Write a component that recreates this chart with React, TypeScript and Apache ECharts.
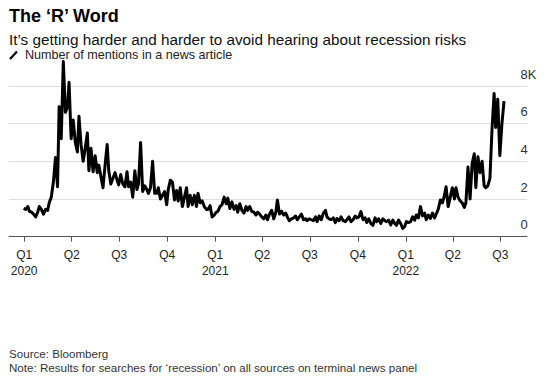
import React, { useEffect, useRef } from "react";
import * as echarts from "echarts";

// Number of mentions (thousands), sampled every ~3.8 days starting 2019-12-31
const mentions2020 = [
  1.5, 1.45, 1.6, 1.35, 1.3, 1.2, 1.05, 1.3, 1.6, 1.45,
  1.2, 1.45, 1.4, 1.8, 2.1, 2.9, 4.2, 2.65, 6.9, 5.2,
  9.3, 6.6, 6.9, 8.2, 5.2, 6.2, 5.0, 4.5, 6.4, 4.9,
  4.0, 4.7, 5.5, 3.5, 4.7, 3.45, 4.3, 3.4, 3.8, 3.2,
  2.6, 3.8, 4.9, 3.5, 2.8, 3.1, 3.4, 3.0, 2.75, 3.3,
  2.8, 2.65, 3.45, 2.65, 2.9, 2.1, 3.5, 2.5, 2.8, 5.0,
  2.4, 2.7, 2.5, 2.3, 2.6, 4.0, 2.3, 2.3, 2.6, 2.0,
  2.2, 2.4, 1.7, 2.5, 3.0, 2.9, 1.95, 2.45, 1.9, 2.6,
  1.6, 2.1, 2.6, 1.6, 2.2, 1.7, 2.2, 1.6, 2.3, 1.8,
  1.9, 1.6, 1.45, 1.45, 1.65, 1.05, 1.15,
];
const mentions2021 = [
  1.3, 1.35, 1.6, 1.7, 2.1, 1.75, 2.05, 1.5, 1.85, 1.45,
  1.65, 1.3, 1.75, 1.4, 1.25, 1.6, 1.4, 1.6, 1.35, 1.3,
  1.15, 1.3, 1.2, 1.05, 0.95, 1.15, 0.9, 1.2, 1.4, 0.95,
  1.3, 1.95, 1.2, 1.35, 1.15, 1.25, 1.05, 0.85, 0.95, 1.0,
  1.1, 0.9, 1.05, 1.2, 0.9, 0.95, 0.85, 0.95, 0.9, 0.85,
  1.05, 0.8, 1.1, 0.9, 1.25, 1.4, 1.05, 0.95, 0.9, 1.0,
  0.75, 0.97, 0.85, 1.05, 0.85, 0.8, 0.9, 1.05, 0.8, 0.9,
  1.1, 1.0, 1.05, 1.33, 0.9, 1.0, 0.75, 0.95, 0.7, 0.6,
  1.0, 0.8, 0.95, 0.7, 0.95, 0.85, 0.8, 0.88, 0.62, 0.88,
  0.7, 0.6, 0.88, 0.7, 0.44, 0.55,
];
const mentions2022 = [
  0.8, 0.75, 0.8, 1.05, 0.88, 1.15, 1.0, 1.6, 1.1, 1.25,
  0.9, 1.15, 0.97, 1.25, 1.0, 1.2, 1.45, 1.95, 1.8, 2.2,
  2.65, 1.6, 2.1, 2.6, 2.0, 2.6, 2.1, 1.9, 1.8, 1.55,
  1.8, 3.7, 2.0, 3.9, 4.4, 2.6, 4.25, 3.4, 4.0, 2.7,
  2.6, 2.7, 3.1, 5.7, 7.6, 5.8, 7.3, 4.3, 6.0, 7.2,
];
const FIRST_SAMPLE = "2019-12-31";
const SAMPLE_STEP_DAYS = 3.8;

const AXIS_START = "2019-12-03";
const AXIS_END = "2022-08-21";

const quarterTickDates = [
  "2020-01-01", "2020-04-01", "2020-07-01", "2020-10-01",
  "2021-01-01", "2021-04-01", "2021-07-01", "2021-10-01",
  "2022-01-01", "2022-04-01", "2022-07-01",
];
const quarterTickLabels = [
  "Q1\n2020", "Q2", "Q3", "Q4",
  "Q1\n2021", "Q2", "Q3", "Q4",
  "Q1\n2022", "Q2", "Q3",
];

const Y_MIN = 0;
const Y_MAX = 8;
const Y_INTERVAL = 2;

const FONT = '"Liberation Sans", Arial, Helvetica, sans-serif';
const DAY = 86400000;

function toUTC(s: string): number {
  const [y, m, d] = s.split("-").map(Number);
  return Date.UTC(y, m - 1, d);
}
function fmt(t: number): string {
  return new Date(t).toISOString().slice(0, 10);
}

export default function App() {
  const ref = useRef<HTMLDivElement>(null);

  useEffect(() => {
    if (!ref.current) return;
    const chart = echarts.init(ref.current, undefined, { renderer: "svg" });

    const start = toUTC(AXIS_START);
    const end = toUTC(AXIS_END);
    const categories: string[] = [];
    for (let t = start; t <= end; t += DAY) categories.push(fmt(t));

    const values: (number | null)[] = new Array(categories.length).fill(null);
    const all = [...mentions2020, ...mentions2021, ...mentions2022];
    const offset = (toUTC(FIRST_SAMPLE) - start) / DAY;
    all.forEach((v, i) => {
      const idx = Math.round(offset + i * SAMPLE_STEP_DAYS);
      if (idx >= 0 && idx < values.length) values[idx] = v;
    });

    const labelMap: Record<string, string> = {};
    quarterTickDates.forEach((d, i) => (labelMap[d] = quarterTickLabels[i]));
    const isTick = (_i: number, v: string) => labelMap[v] !== undefined;

    chart.setOption({
      animation: false,
      backgroundColor: "#ffffff",
      grid: { left: 9, right: 23, top: 86, bottom: 145.3, containLabel: false },
      xAxis: {
        type: "category",
        data: categories,
        boundaryGap: false,
        axisLine: { show: true, lineStyle: { color: "#555555", width: 1 } },
        axisTick: {
          show: true,
          length: 5,
          interval: isTick,
          lineStyle: { color: "#555555", width: 1 },
        },
        axisLabel: {
          interval: isTick,
          formatter: (v: string) => labelMap[v] ?? "",
          color: "#222222",
          fontSize: 12,
          lineHeight: 16,
          margin: 10,
          fontFamily: FONT,
        },
        splitLine: { show: false },
      },
      yAxis: {
        type: "value",
        position: "right",
        min: Y_MIN,
        max: Y_MAX,
        interval: Y_INTERVAL,
        axisLine: { show: false },
        axisTick: { show: false },
        splitLine: { show: true, lineStyle: { color: "#dddddd", width: 1 } },
        axisLabel: {
          margin: -6.5,
          align: "left",
          verticalAlign: "bottom",
          lineHeight: 24,
          formatter: (v: number) => (v === Y_MAX ? `${v}K` : String(v)),
          color: "#333333",
          fontSize: 13,
          fontFamily: FONT,
        },
      },
      series: [
        {
          type: "line",
          data: values,
          connectNulls: true,
          showSymbol: false,
          symbol: "none",
          clip: false,
          lineStyle: { color: "#000000", width: 3, join: "round" },
        },
      ],
      graphic: [
        {
          type: "text",
          x: 9,
          y: 16.3,
          style: {
            text: "The ‘R’ Word",
            font: `bold 18px ${FONT}`,
            fill: "#000000",
            verticalAlign: "middle",
          },
        },
        {
          type: "text",
          x: 9,
          y: 39.6,
          style: {
            text: "It’s getting harder and harder to avoid hearing about recession risks",
            font: `15.3px ${FONT}`,
            fill: "#111111",
            verticalAlign: "middle",
          },
        },
        {
          type: "line",
          shape: { x1: 10, y1: 59, x2: 17, y2: 51.5 },
          style: { stroke: "#000000", lineWidth: 2.2 },
        },
        {
          type: "text",
          x: 25,
          y: 55.3,
          style: {
            text: "Number of mentions in a news article",
            font: `12.6px ${FONT}`,
            fill: "#222222",
            verticalAlign: "middle",
          },
        },
        {
          type: "text",
          x: 9,
          y: 353,
          style: {
            text: "Source: Bloomberg",
            font: `11.6px ${FONT}`,
            fill: "#333333",
            verticalAlign: "middle",
          },
        },
        {
          type: "text",
          x: 9,
          y: 367.4,
          style: {
            text: "Note: Results for searches for ‘recession’ on all sources on terminal news panel",
            font: `11.6px ${FONT}`,
            fill: "#333333",
            verticalAlign: "middle",
          },
        },
      ],
    });

    return () => chart.dispose();
  }, []);

  return (
    <div
      ref={ref}
      style={{ position: "fixed", left: 0, top: 0, width: 550, height: 382 }}
    />
  );
}
